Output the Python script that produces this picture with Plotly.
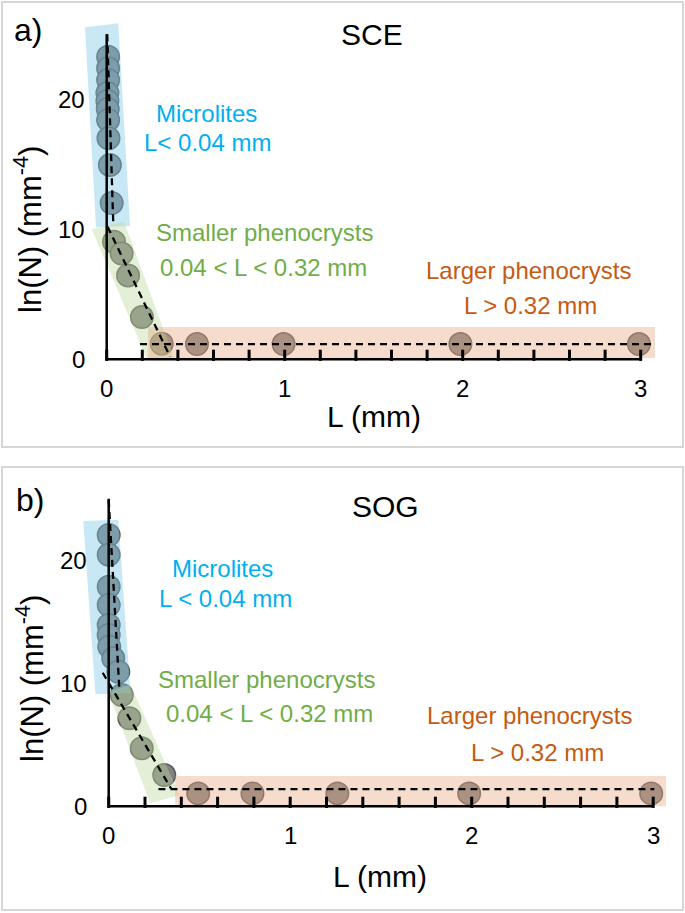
import plotly.graph_objects as go

W, H = 685, 913
FONT = "Liberation Sans, Arial, sans-serif"

# ---------------- data ----------------
# panel a) SCE
SCE_MICRO_L = [0.008, 0.008, 0.008, 0.004, 0.004, 0.006, 0.008, 0.010, 0.018, 0.028]
SCE_MICRO_LNN = [23.28, 22.38, 21.48, 20.48, 19.87, 19.25, 18.41, 17.0, 14.95, 12.02]
SCE_SMALL_L = [0.041, 0.084, 0.120, 0.198, 0.309]
SCE_SMALL_LNN = [9.05, 8.13, 6.45, 3.25, 1.20]
SCE_LARGE_L = [0.507, 0.994, 1.987, 2.99]
SCE_LARGE_LNN = [1.17, 1.17, 1.17, 1.17]
SCE_FIT_MICRO_L = [0.003, 0.037]
SCE_FIT_MICRO_LNN = [25.0, 10.4]
SCE_FIT_SMALL_L = [0.005, 0.356]
SCE_FIT_SMALL_LNN = [10.2, 0.2]
SCE_FIT_LARGE_L = [0.187, 3.06]
SCE_FIT_LARGE_LNN = [1.17, 1.17]
SCE_BAND_MICRO = ([-0.122, 0.065, 0.131, -0.060], [25.54, 25.85, 10.25, 10.15])
SCE_BAND_SMALL = ([-0.084, 0.097, 0.378, 0.224], [10.0, 10.6, 0.1, 0.1])
SCE_BAND_LARGE = ([0.232, 3.08, 3.08, 0.232], [2.48, 2.48, 0.1, 0.1])

# panel b) SOG
SOG_MICRO_L = [0.0, 0.0, 0.0, 0.0, 0.0, 0.0, 0.003, 0.025, 0.053]
SOG_MICRO_LNN = [22.06, 20.46, 17.85, 16.37, 14.74, 13.93, 12.98, 12.03, 10.94]
SOG_SMALL_L = [0.072, 0.114, 0.182, 0.306]
SOG_SMALL_LNN = [9.05, 7.15, 4.72, 2.54]
SOG_LARGE_L = [0.493, 0.792, 1.26, 1.986, 2.989]
SOG_LARGE_LNN = [1.05, 1.05, 1.05, 1.05, 1.05]
SOG_FIT_MICRO_L = [0.0, 0.058]
SOG_FIT_MICRO_LNN = [24.9, 9.7]
SOG_FIT_SMALL_L = [-0.033, 0.343]
SOG_FIT_SMALL_LNN = [10.86, 1.46]
SOG_FIT_LARGE_L = [0.274, 3.006]
SOG_FIT_LARGE_LNN = [1.40, 1.40]
SOG_BAND_MICRO = ([-0.140, 0.053, 0.120, -0.073], [23.2, 23.3, 9.19, 9.1])
SOG_BAND_SMALL = ([-0.002, 0.120, 0.390, 0.228], [9.3, 9.9, 0.9, 0.25])
SOG_BAND_LARGE = ([0.366, 3.07, 3.07, 0.366], [2.46, 2.46, 0.0, 0.0])

X_TICK_LABELS = [0, 1, 2, 3]
X_MINOR_TICKS = [0, 0.2, 0.4, 0.6, 0.8, 1.0, 1.2, 1.4, 1.6, 1.8, 2.0, 2.2, 2.4, 2.6, 2.8, 3.0]
Y_TICK_LABELS = [0, 10, 20]
X_AXIS_END = 3
Y_AXIS_END = 25
TICK_LEN_PX = 8

BLUE_TXT = "#00b0f0"
GREEN_TXT = "#70ad47"
ORANGE_TXT = "#c55a11"
BAND_BLUE = "rgba(117,197,232,0.40)"
BAND_GREEN = "rgba(185,217,155,0.40)"
BAND_ORANGE = "rgba(230,167,130,0.40)"
DOT_FILL = "#828282"
DOT_LINE = "#5c5c5c"

fig = go.Figure()


def add_panel(xa, ya, micro, small, large, fits, bands, yscale):
    # points first; the translucent bands are laid over them
    for xs, ys in (micro, small, large):
        fig.add_trace(go.Scatter(
            x=xs, y=ys, mode="markers", xaxis=xa, yaxis=ya, showlegend=False,
            marker=dict(size=22.5, color=DOT_FILL, line=dict(color=DOT_LINE, width=1.5)),
            hoverinfo="skip"))
    for (bx, by), col in zip(bands, (BAND_BLUE, BAND_GREEN, BAND_ORANGE)):
        fig.add_trace(go.Scatter(
            x=bx + [bx[0]], y=by + [by[0]], mode="lines", fill="toself",
            fillcolor=col, line=dict(width=0), xaxis=xa, yaxis=ya,
            showlegend=False, hoverinfo="skip"))
    for fx, fy in fits:
        fig.add_trace(go.Scatter(
            x=fx, y=fy, mode="lines", xaxis=xa, yaxis=ya, showlegend=False,
            line=dict(color="#000000", width=2.3, dash="7px,5px"), hoverinfo="skip"))
    # inward x ticks: vertical line markers centred half a tick above the axis
    half = TICK_LEN_PX / 2 / yscale
    fig.add_trace(go.Scatter(
        x=X_MINOR_TICKS, y=[half] * len(X_MINOR_TICKS), mode="markers",
        xaxis=xa, yaxis=ya, showlegend=False, hoverinfo="skip", cliponaxis=False,
        marker=dict(symbol="line-ns", size=TICK_LEN_PX, color="black",
                    line=dict(color="black", width=3))))
    # axis lines
    fig.add_trace(go.Scatter(
        x=[0, 0, X_AXIS_END], y=[Y_AXIS_END, 0, 0], mode="lines", xaxis=xa, yaxis=ya,
        showlegend=False, line=dict(color="black", width=2.5), hoverinfo="skip"))


A_GEOM = dict(left=2, right=683, top=2, bottom=447, x0px=106.7, xscale=178.0, y0px=359.3, yscale=13.0)
B_GEOM = dict(left=2, right=683, top=467, bottom=910, x0px=108.7, xscale=181.5, y0px=806.3, yscale=12.3)

add_panel("x", "y",
          (SCE_MICRO_L, SCE_MICRO_LNN), (SCE_SMALL_L, SCE_SMALL_LNN), (SCE_LARGE_L, SCE_LARGE_LNN),
          [(SCE_FIT_MICRO_L, SCE_FIT_MICRO_LNN), (SCE_FIT_SMALL_L, SCE_FIT_SMALL_LNN),
           (SCE_FIT_LARGE_L, SCE_FIT_LARGE_LNN)],
          [SCE_BAND_MICRO, SCE_BAND_SMALL, SCE_BAND_LARGE], A_GEOM["yscale"])
add_panel("x2", "y2",
          (SOG_MICRO_L, SOG_MICRO_LNN), (SOG_SMALL_L, SOG_SMALL_LNN), (SOG_LARGE_L, SOG_LARGE_LNN),
          [(SOG_FIT_MICRO_L, SOG_FIT_MICRO_LNN), (SOG_FIT_SMALL_L, SOG_FIT_SMALL_LNN),
           (SOG_FIT_LARGE_L, SOG_FIT_LARGE_LNN)],
          [SOG_BAND_MICRO, SOG_BAND_SMALL, SOG_BAND_LARGE], B_GEOM["yscale"])


def axis_ranges(left, right, top, bottom, x0px, xscale, y0px, yscale):
    xr = [(left - x0px) / xscale, (right - x0px) / xscale]
    yr = [(y0px - bottom) / yscale, (y0px - top) / yscale]
    xd = [left / W, right / W]
    yd = [1 - bottom / H, 1 - top / H]
    return xd, xr, yd, yr


xd1, xr1, yd1, yr1 = axis_ranges(**A_GEOM)
xd2, xr2, yd2, yr2 = axis_ranges(**B_GEOM)

shapes = []
annotations = []


def pann(text, xpx, ypx, size, color="black", **kw):
    annotations.append(dict(text=text, x=xpx / W, y=1 - ypx / H, xref="paper", yref="paper",
                            showarrow=False, xanchor="center", yanchor="middle",
                            font=dict(family=FONT, size=size, color=color), **kw))


for xa, ya in (("x", "y"), ("x2", "y2")):
    for v in X_TICK_LABELS:
        annotations.append(dict(text=str(v), x=v, y=0, xref=xa, yref=ya, showarrow=False,
                                xanchor="center", yanchor="middle", yshift=-29,
                                font=dict(family=FONT, size=24, color="black")))
    for v in Y_TICK_LABELS:
        annotations.append(dict(text=str(v), x=0, y=v, xref=xa, yref=ya, showarrow=False,
                                xanchor="right", yanchor="middle", xshift=-20,
                                font=dict(family=FONT, size=24, color="black")))

# panel frames
for g in (A_GEOM, B_GEOM):
    shapes.append(dict(type="rect", xref="paper", yref="paper",
                       x0=g["left"] / W, x1=g["right"] / W,
                       y0=1 - g["bottom"] / H, y1=1 - g["top"] / H,
                       line=dict(color="#d6d6d6", width=2), layer="above"))

# panel a texts
pann("a)", 28, 30, 32)
pann("SCE", 372, 35, 30)
pann("Microlites", 206, 113, 24, BLUE_TXT)
pann("L< 0.04 mm", 207, 142, 24, BLUE_TXT)
pann("Smaller phenocrysts", 264, 232, 24, GREEN_TXT)
pann("0.04 < L < 0.32 mm", 263, 268, 24, GREEN_TXT)
pann("Larger phenocrysts", 528, 270, 24, ORANGE_TXT)
pann("L > 0.32 mm", 530, 305, 24, ORANGE_TXT)
pann("L (mm)", 374, 416, 30)
pann("ln(N) (mm<sup>-4</sup>)", 28, 230, 31, textangle=-90)

# panel b texts
pann("b)", 30, 500, 32)
pann("SOG", 385, 506, 30)
pann("Microlites", 222, 568, 24, BLUE_TXT)
pann("L < 0.04 mm", 226, 598, 24, BLUE_TXT)
pann("Smaller phenocrysts", 266, 679, 24, GREEN_TXT)
pann("0.04 < L < 0.32 mm", 269, 713, 24, GREEN_TXT)
pann("Larger phenocrysts", 529, 715, 24, ORANGE_TXT)
pann("L > 0.32 mm", 537, 752, 24, ORANGE_TXT)
pann("L (mm)", 380, 876, 30)
pann("ln(N) (mm<sup>-4</sup>)", 30, 679, 31, textangle=-90)

fig.update_layout(
    width=W, height=H, autosize=False,
    margin=dict(l=0, r=0, t=0, b=0),
    paper_bgcolor="white", plot_bgcolor="white",
    font=dict(family=FONT),
    xaxis=dict(domain=xd1, range=xr1, visible=False, anchor="y"),
    yaxis=dict(domain=yd1, range=yr1, visible=False, anchor="x"),
    xaxis2=dict(domain=xd2, range=xr2, visible=False, anchor="y2"),
    yaxis2=dict(domain=yd2, range=yr2, visible=False, anchor="x2"),
    shapes=shapes, annotations=annotations, showlegend=False,
    hovermode=False,
)

# remove the default 8px page margin so the 685x913 figure fills the window exactly
fig.write_html("out.html", config={"displayModeBar": False, "staticPlot": True},
               post_script="document.body.style.margin='0';")
